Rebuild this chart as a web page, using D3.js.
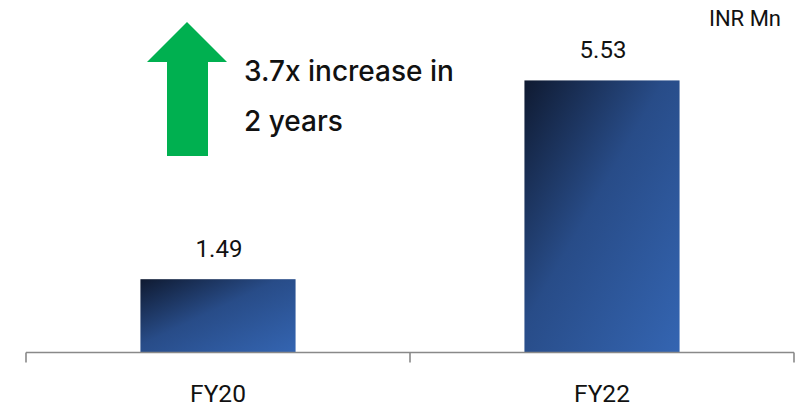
<!DOCTYPE html>
<html>
<head>
<meta charset="utf-8">
<script src="https://cdn.jsdelivr.net/npm/d3@7"></script>
<style>
  body { margin: 0; background: #fff; }
  svg { display: block; }
</style>
</head>
<body>
<div id="chart"></div>
<script>
// data
var categories = ["FY20", "FY22"];
var values = [1.49, 5.53];
var valueLabels = ["1.49", "5.53"];
var unitLabel = "INR Mn";
var noteLines = ["3.7x increase in", "2 years"];

var width = 808, height = 407;
var base = 352.5;

var svg = d3.select("#chart").append("svg")
  .attr("width", width)
  .attr("height", height);

// bar gradient, dark navy top-left to blue bottom-right
var defs = svg.append("defs");
var grad = defs.append("linearGradient")
  .attr("id", "barGrad")
  .attr("x1", 0).attr("y1", 0)
  .attr("x2", 1).attr("y2", 1);
grad.append("stop").attr("offset", "0%").attr("stop-color", "#0f1a31");
grad.append("stop").attr("offset", "45%").attr("stop-color", "#284c88");
grad.append("stop").attr("offset", "100%").attr("stop-color", "#3465b2");

var x = d3.scaleBand().domain(categories).range([26, 794]).padding(0);
var y = d3.scaleLinear().domain([0, 6]).range([base, base - 6 * 49.2]);
var barW = x.bandwidth() * 0.404;

svg.selectAll(".bar")
  .data(values)
  .enter().append("rect")
    .attr("class", "bar")
    .attr("x", function(d, i) { return x(categories[i]) + (x.bandwidth() - barW) / 2; })
    .attr("y", function(d) { return y(d); })
    .attr("width", barW)
    .attr("height", function(d) { return base - y(d); })
    .style("fill", "url(#barGrad)");

svg.selectAll(".val")
  .data(values)
  .enter().append("text")
    .attr("class", "val")
    .attr("x", function(d, i) { return x(categories[i]) + x.bandwidth() / 2 + 1; })
    .attr("y", function(d) { return y(d) - 22; })
    .attr("text-anchor", "middle")
    .style("font-family", "Roboto, sans-serif")
    .style("font-size", "24px")
    .style("fill", "#111")
    .text(function(d, i) { return valueLabels[i]; });

// axis: labels from d3 axis, ticks at the band edges
var axis = svg.append("g")
  .attr("transform", "translate(0," + base + ")")
  .call(d3.axisBottom(x).tickSize(0));
axis.select(".domain").remove();
axis.selectAll("text")
  .attr("y", 49.5)
  .attr("dy", 0)
  .style("font-family", "Roboto, sans-serif")
  .style("font-size", "24.5px")
  .style("fill", "#111");

var edges = categories.map(function(c) { return x(c); }).concat([x.range()[1]]);
svg.append("line")
  .attr("x1", x.range()[0]).attr("x2", x.range()[1])
  .attr("y1", base).attr("y2", base)
  .style("stroke", "#898989").style("stroke-width", 1.6);
svg.selectAll(".edge")
  .data(edges)
  .enter().append("line")
    .attr("class", "edge")
    .attr("x1", function(d) { return d; }).attr("x2", function(d) { return d; })
    .attr("y1", base).attr("y2", base + 10)
    .style("stroke", "#898989").style("stroke-width", 1.6);

svg.append("text")
  .attr("x", 781).attr("y", 26)
  .attr("text-anchor", "end")
  .style("font-family", "Roboto, sans-serif")
  .style("font-size", "22px")
  .style("fill", "#111")
  .text(unitLabel);

// green up arrow
var ax = 187, atop = 22;
svg.append("path")
  .attr("d", d3.line()([
    [ax, atop], [ax + 40, atop + 40], [ax + 21, atop + 40], [ax + 21, 156],
    [ax - 20, 156], [ax - 20, atop + 40], [ax - 40, atop + 40]
  ]) + "Z")
  .style("fill", "#00b050");

svg.selectAll(".note")
  .data(noteLines)
  .enter().append("text")
    .attr("class", "note")
    .attr("x", 244)
    .attr("y", function(d, i) { return 81 + i * 50; })
    .style("font-family", "Inter, sans-serif")
    .style("font-weight", 500)
    .style("font-size", "28px")
    .style("fill", "#111")
    .text(function(d) { return d; });
</script>
</body>
</html>
